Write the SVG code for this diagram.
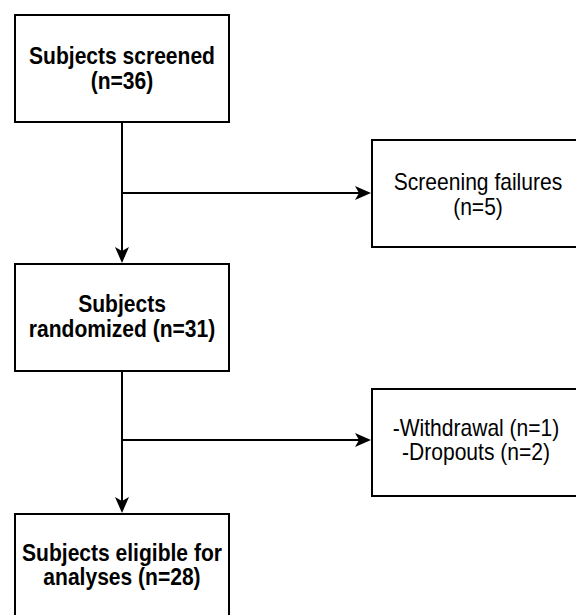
<svg xmlns="http://www.w3.org/2000/svg" width="576" height="615" viewBox="0 0 576 615">
<defs>
<style>
.box{fill:#ffffff;stroke:#000000;stroke-width:2}
.edge{fill:none;stroke:#000000;stroke-width:2}
.b{font-family:"Liberation Sans",Arial,Helvetica,sans-serif;font-size:23px;font-weight:bold;fill:#000;text-anchor:middle}
.n{font-family:"Liberation Sans",Arial,Helvetica,sans-serif;font-size:23px;fill:#000;text-anchor:middle}
</style>
<marker id="arr" viewBox="0 0 16 14" markerWidth="16" markerHeight="14" refX="4" refY="7" orient="auto" markerUnits="userSpaceOnUse">
<path d="M0,0 L16,7 L0,14 L4,7 Z" fill="#000"/>
</marker>
</defs>
<rect width="576" height="615" fill="#ffffff"/>
<g id="connectors">
<path class="edge" d="M122,122 L122,251" marker-end="url(#arr)"/>
<path class="edge" d="M122,193 L359,193" marker-end="url(#arr)"/>
<path class="edge" d="M122,371 L122,501" marker-end="url(#arr)"/>
<path class="edge" d="M122,440 L359,440" marker-end="url(#arr)"/>
</g>
<g id="screened">
<rect class="box" x="15" y="15" width="214" height="107"/>
<text class="b" transform="translate(122,64) scale(0.915,1)">Subjects screened</text>
<text class="b" transform="translate(122,89) scale(0.915,1)">(n=36)</text>
</g>
<g id="failures">
<rect class="box" x="372" y="140" width="210" height="107"/>
<text class="n" transform="translate(478,190) scale(0.915,1)">Screening failures</text>
<text class="n" transform="translate(478,215) scale(0.915,1)">(n=5)</text>
</g>
<g id="randomized">
<rect class="box" x="15" y="264" width="214" height="107"/>
<text class="b" transform="translate(122,312) scale(0.915,1)">Subjects</text>
<text class="b" transform="translate(122,337) scale(0.915,1)">randomized (n=31)</text>
</g>
<g id="withdrawal">
<rect class="box" x="372" y="389" width="210" height="107"/>
<text class="n" transform="translate(476,436) scale(0.915,1)">-Withdrawal (n=1)</text>
<text class="n" transform="translate(476,460) scale(0.915,1)">-Dropouts (n=2)</text>
</g>
<g id="eligible">
<rect class="box" x="15" y="514" width="214" height="107"/>
<text class="b" transform="translate(122,561) scale(0.915,1)">Subjects eligible for</text>
<text class="b" transform="translate(122,585) scale(0.915,1)">analyses (n=28)</text>
</g>
</svg>
